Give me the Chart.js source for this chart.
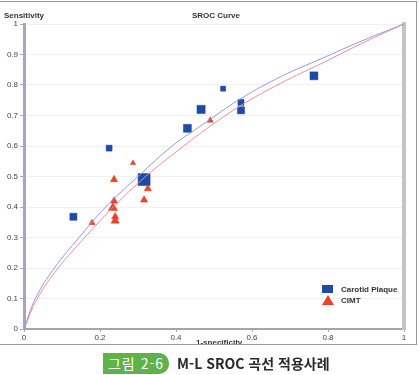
<!DOCTYPE html>
<html lang="ko">
<head>
<meta charset="UTF-8">
<title>SROC Curve</title>
<script src="https://cdn.jsdelivr.net/npm/chart.js"></script>
<style>
    body { margin: 0; background: #fff; font-family: "Noto Sans", "Noto Sans CJK KR", sans-serif; }
    #frame { position: absolute; left: 0; top: 1px; width: 416px; height: 342px; border: 1px solid #9a9a9a; border-left: none; overflow: hidden; }
    #grafico { position: absolute; left: 0; top: -1px; }
    .lbl { position: absolute; font: bold 8px "Liberation Sans", Arial, sans-serif; color: #333; white-space: nowrap; }
    #legenda { position: absolute; left: 312px; top: 282px; font: bold 8px "Liberation Sans", Arial, sans-serif; color: #333; }
    #legenda div { height: 11px; line-height: 11px; }
    .sq { display: inline-block; width: 11px; height: 8px; background: #1f4aa8; margin-right: 8px; vertical-align: middle; }
    .tri { display: inline-block; width: 0; height: 0; border-left: 6px solid transparent; border-right: 6px solid transparent; border-bottom: 10px solid #f0402a; margin-right: 7px; vertical-align: middle; }
    #legenda .sq, #legenda .tri { position: relative; top: -1px; }
    #legenda span.t { vertical-align: middle; }
    #legenda .l1 { margin-left: 10px; }
    #caption { position: absolute; left: 103px; top: 353px; height: 22px; }
    #tag { position: absolute; left: 0; top: 0; width: 66px; height: 21px; background: #5fb24a; color: #fff; border-radius: 0 10px 10px 0; font: 14px "Noto Sans CJK KR", sans-serif; line-height: 21px; text-align: center; letter-spacing: 1px; }
    #ctext { position: absolute; left: 74px; top: 0; font: bold 14px "Noto Sans CJK KR", sans-serif; line-height: 21px; color: #2a2a2a; white-space: nowrap; }
</style>
</head>
<body>
<div id="frame">
    <canvas id="grafico" width="417" height="344"></canvas>
    <div class="lbl" style="left:4px; top:9px;">Sensitivity</div>
    <div class="lbl" style="left:192px; top:9px;">SROC Curve</div>
    <div class="lbl" style="left:196px; top:336px;">1-specificity</div>
    <div id="legenda">
        <div><span class="sq l1"></span><span class="t">Carotid Plaque</span></div>
        <div><span class="tri l1"></span><span class="t">CIMT</span></div>
    </div>
</div>
<div id="caption">
    <div id="tag">그림 2-6</div>
    <div id="ctext">M-L SROC 곡선 적용사례</div>
</div>

<script>
// estudos - Carotid Plaque (1-especificidade, sensibilidade)
const plaqueX = [0.13, 0.224, 0.316, 0.43, 0.466, 0.524, 0.571, 0.571, 0.763];
const plaqueY = [0.368, 0.593, 0.49, 0.658, 0.72, 0.788, 0.743, 0.717, 0.83];
const plaqueWeight = [5, 4.2, 8.5, 5.6, 5.8, 3.6, 4.3, 5, 5.6];

// estudos - CIMT
const cimtX = [0.179, 0.237, 0.237, 0.234, 0.24, 0.24, 0.287, 0.316, 0.326, 0.49];
const cimtY = [0.348, 0.49, 0.42, 0.397, 0.368, 0.355, 0.544, 0.423, 0.46, 0.684];
const cimtWeight = [3.6, 4.2, 4.2, 5.4, 4.2, 4.8, 3, 4.2, 4.2, 3.6];

// curvas SROC
const srocPlaqueX = [0, 0.03, 0.08, 0.145, 0.215, 0.30, 0.39, 0.47, 0.57, 0.68, 0.78, 0.89, 1];
const srocPlaqueY = [0, 0.1, 0.2, 0.3, 0.4, 0.5, 0.6, 0.67, 0.755, 0.83, 0.885, 0.945, 1];
const srocCimtX = [0, 0.035, 0.09, 0.16, 0.235, 0.32, 0.41, 0.49, 0.58, 0.69, 0.79, 0.895, 1];
const srocCimtY = [0, 0.1, 0.2, 0.3, 0.4, 0.5, 0.59, 0.665, 0.74, 0.815, 0.875, 0.94, 1];

const xTicks = [0, 0.2, 0.4, 0.6, 0.8, 1];

function pontos(xs, ys) {
    return xs.map((x, i) => ({ x: x, y: ys[i] }));
}

// 1.0 -> "1", 0.0 -> "0"
function rotulo(v) {
    return String(Math.round(v * 10) / 10);
}

const ctx = document.getElementById('grafico').getContext('2d');
new Chart(ctx, {
    type: 'scatter',
    data: {
        datasets: [
            {
                type: 'line',
                data: pontos(srocPlaqueX, srocPlaqueY),
                borderColor: '#8e9be6',
                borderWidth: 1,
                pointRadius: 0,
                tension: 0.4,
                fill: false
            },
            {
                type: 'line',
                data: pontos(srocCimtX, srocCimtY),
                borderColor: '#eb8f9a',
                borderWidth: 1,
                pointRadius: 0,
                tension: 0.4,
                fill: false
            },
            {
                label: 'CIMT',
                data: pontos(cimtX, cimtY),
                pointStyle: 'triangle',
                pointRadius: cimtWeight,
                backgroundColor: '#e8432b',
                borderColor: '#d8391f',
                borderWidth: 0.5
            },
            {
                label: 'Carotid Plaque',
                data: pontos(plaqueX, plaqueY),
                pointStyle: 'rect',
                pointRadius: plaqueWeight,
                backgroundColor: '#1f4aa8',
                borderColor: '#1a3f96',
                borderWidth: 0.5
            }
        ]
    },
    options: {
        responsive: false,
        animation: false,
        layout: { padding: { top: 23, right: 9, left: 0, bottom: 0 } },
        plugins: {
            legend: { display: false },
            tooltip: { enabled: false }
        },
        scales: {
            x: {
                min: 0, max: 1,
                afterBuildTicks: (s) => { s.ticks = xTicks.map(v => ({ value: v })); },
                afterFit: (s) => { s.height = 16; },
                grid: { drawOnChartArea: false, tickLength: 3, tickColor: '#aaa' },
                border: { color: '#a5a5a5', width: 2 },
                ticks: { callback: rotulo, font: { size: 8, family: 'Liberation Sans' }, color: '#444', padding: 1, maxRotation: 0 }
            },
            y: {
                min: 0, max: 1,
                afterFit: (s) => { s.width = 24; },
                grid: { color: '#f1f1f1', tickLength: 4, tickColor: '#aaa' },
                border: { color: '#aaa3bd', width: 3 },
                ticks: { stepSize: 0.1, callback: rotulo, font: { size: 8, family: 'Liberation Sans' }, color: '#444', padding: 2 }
            },
            y2: {
                position: 'right',
                min: 0, max: 1,
                afterFit: (s) => { s.width = 4; },
                grid: { display: false },
                border: { color: '#c4c4c4', width: 4 },
                ticks: { display: false }
            }
        }
    }
});
</script>
</body>
</html>
